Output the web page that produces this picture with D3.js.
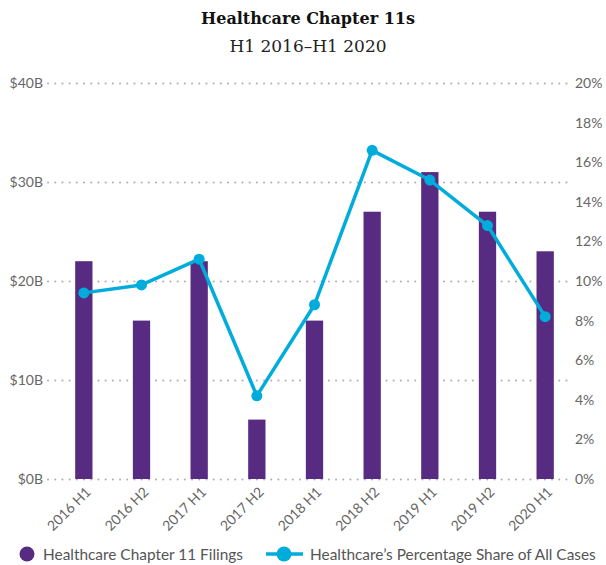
<!DOCTYPE html>
<html>
<head>
<meta charset="utf-8">
<script src="https://cdn.jsdelivr.net/npm/d3@7"></script>
<style>
  html, body { margin: 0; padding: 0; background: #fff; }
  svg text { font-family: Lato, "Open Sans", sans-serif; }
</style>
</head>
<body>
<svg id="chart" width="606" height="565"></svg>
<script>
// Half-year periods
const periods = ["2016 H1", "2016 H2", "2017 H1", "2017 H2", "2018 H1", "2018 H2", "2019 H1", "2019 H2", "2020 H1"];
// Healthcare Chapter 11 filings, $ billions
const filings = [22, 16, 22, 6, 16, 27, 31, 27, 23];
// Healthcare's percentage share of all cases
const sharePct = [9.4, 9.8, 11.1, 4.2, 8.8, 16.6, 15.1, 12.8, 8.2];
// Axis ticks
const dollarTicks = [0, 10, 20, 30, 40];
const pctTicks = [0, 2, 4, 6, 8, 10, 12, 14, 16, 18, 20];

const purple = "#572b81";
const blue = "#00acdb";
const gray = "#666";

const svg = d3.select("#chart");

const plot = { left: 55, right: 574, top: 83, bottom: 479 };

const x = d3.scaleBand()
  .domain(periods)
  .range([plot.left, plot.right])
  .paddingInner(0.7)
  .paddingOuter(0.35);

const yL = d3.scaleLinear().domain([0, 40]).range([plot.bottom, plot.top]);
const yR = d3.scaleLinear().domain([0, 20]).range([plot.bottom, plot.top]);

// Title
svg.append("text")
  .attr("x", 308).attr("y", 24)
  .attr("text-anchor", "middle")
  .style("font-family", "'DejaVu Serif', serif")
  .style("font-weight", "bold")
  .style("font-size", "16px")
  .attr("fill", "#111")
  .text("Healthcare Chapter 11s");
svg.append("text")
  .attr("x", 308).attr("y", 52)
  .attr("text-anchor", "middle")
  .style("font-family", "'DejaVu Serif', serif")
  .style("font-size", "17px")
  .attr("fill", "#222")
  .text("H1 2016\u2013H1 2020");

// Dotted gridlines at the dollar ticks
svg.append("g")
  .selectAll("line")
  .data(dollarTicks)
  .join("line")
  .attr("x1", 48).attr("x2", 570)
  .attr("y1", d => yL(d) + 0.5).attr("y2", d => yL(d) + 0.5)
  .attr("stroke", "#b0b0b0")
  .attr("stroke-width", 2)
  .attr("stroke-dasharray", "0.1,7.1")
  .attr("stroke-linecap", "round");

// Left axis
const leftAxis = svg.append("g")
  .attr("transform", `translate(43,0)`)
  .call(d3.axisLeft(yL).tickValues(dollarTicks).tickSize(0).tickPadding(0).tickFormat(d => `$${d}B`));
leftAxis.select(".domain").remove();
leftAxis.selectAll("text").attr("fill", gray).style("font-size", "14px").style("font-family", "Lato, sans-serif");

// Right axis
const rightAxis = svg.append("g")
  .attr("transform", `translate(575,0)`)
  .call(d3.axisRight(yR).tickValues(pctTicks).tickSize(0).tickPadding(0).tickFormat(d => `${d}%`));
rightAxis.select(".domain").remove();
rightAxis.selectAll("text").attr("fill", gray).style("font-size", "14px").style("font-family", "Lato, sans-serif");

// Bars
svg.append("g")
  .selectAll("rect")
  .data(periods)
  .join("rect")
  .attr("x", d => x(d))
  .attr("width", x.bandwidth())
  .attr("y", (d, i) => yL(filings[i]))
  .attr("height", (d, i) => yL(0) - yL(filings[i]))
  .attr("fill", purple);

// Share line
const cx = d => x(d) + x.bandwidth() / 2;
const line = d3.line()
  .x((d, i) => cx(periods[i]))
  .y(d => yR(d));

svg.append("path")
  .datum(sharePct)
  .attr("d", line)
  .attr("fill", "none")
  .attr("stroke", blue)
  .attr("stroke-width", 3.5)
  .attr("stroke-linejoin", "round");

svg.append("g")
  .selectAll("circle")
  .data(sharePct)
  .join("circle")
  .attr("cx", (d, i) => cx(periods[i]))
  .attr("cy", d => yR(d))
  .attr("r", 5.5)
  .attr("fill", blue);

// X axis labels, rotated
const xAxis = svg.append("g")
  .attr("transform", `translate(0,${plot.bottom})`)
  .call(d3.axisBottom(x).tickSize(0).tickPadding(0));
xAxis.select(".domain").remove();
xAxis.selectAll("text")
  .attr("fill", gray)
  .style("font-size", "14px")
  .style("font-family", "Lato, sans-serif")
  .attr("text-anchor", "end")
  .attr("dy", null)
  .attr("y", 0)
  .attr("transform", "translate(8,14) rotate(-45)");

// Legend
const legend = svg.append("g").attr("transform", "translate(0,554)");
legend.append("circle").attr("cx", 27).attr("cy", 0).attr("r", 7.5).attr("fill", purple);
legend.append("text").attr("x", 43).attr("y", 5.5)
  .attr("fill", "#555").style("font-size", "15.4px")
  .text("Healthcare Chapter 11 Filings");
legend.append("line").attr("x1", 266).attr("x2", 303).attr("y1", 0).attr("y2", 0)
  .attr("stroke", blue).attr("stroke-width", 3.5);
legend.append("circle").attr("cx", 284).attr("cy", 0).attr("r", 7.5).attr("fill", blue);
legend.append("text").attr("x", 310).attr("y", 5.5)
  .attr("fill", "#555").style("font-size", "15.4px")
  .text("Healthcare\u2019s Percentage Share of All Cases");
</script>
</body>
</html>
